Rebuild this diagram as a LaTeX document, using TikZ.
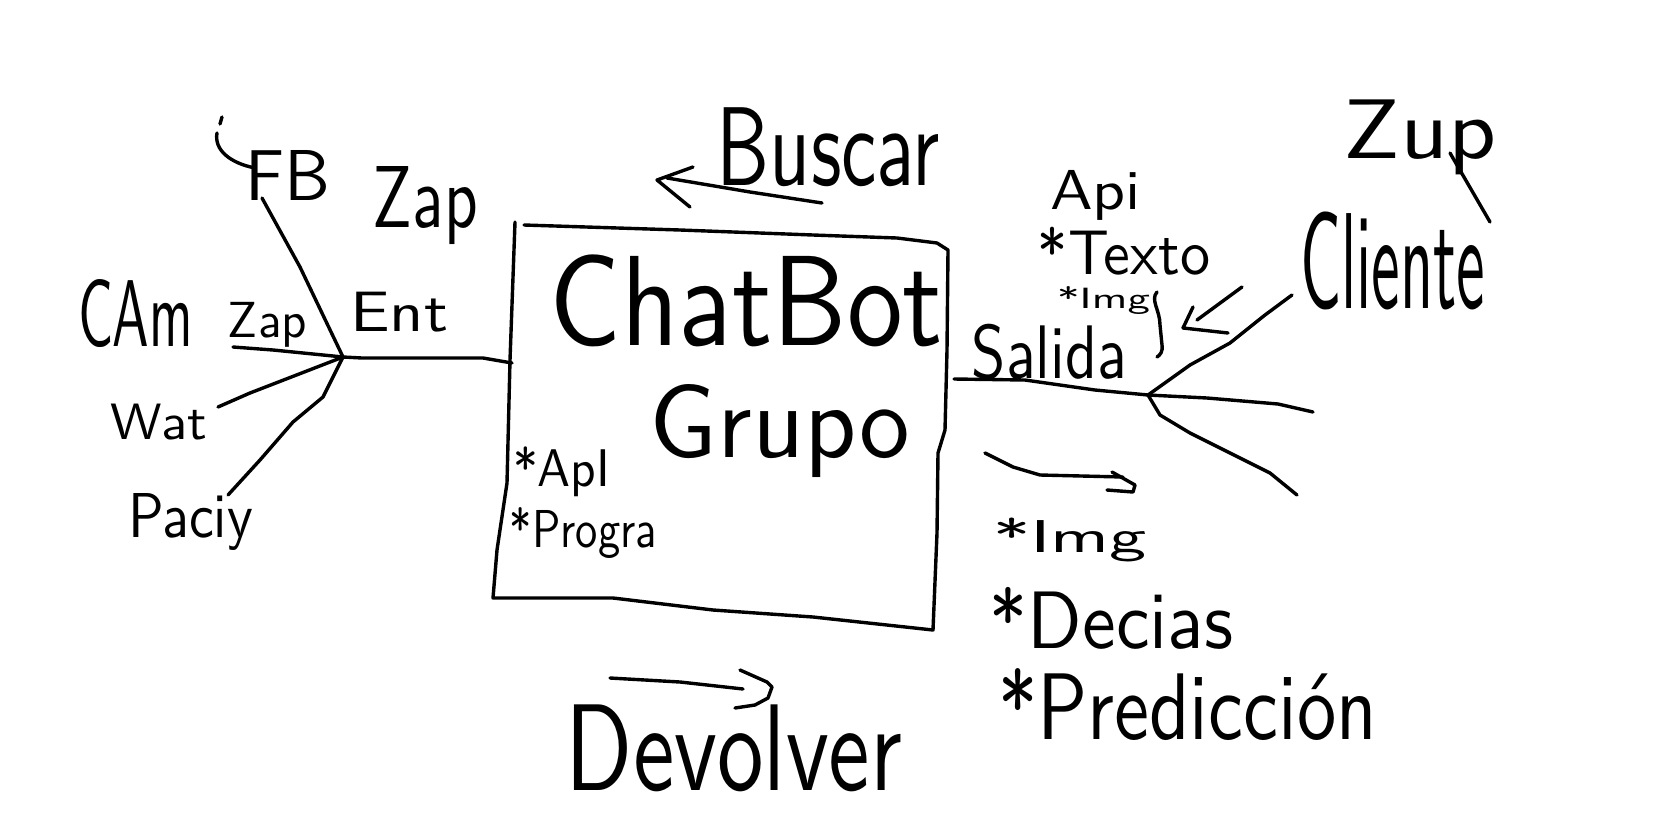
\documentclass[tikz,border=0pt]{standalone}
\usepackage{fontspec}
\usepackage{graphicx}
\tikzset{
  pen/.style={line width=3.4pt, line cap=round, line join=round},
  lbl/.style={inner sep=0pt, anchor=center}
}
\newcommand\hw[3]{\resizebox*{#1pt}{#2pt}{\sffamily #3}}
\begin{document}
\begin{tikzpicture}[x=1pt,y=-1pt]
\useasboundingbox (0,0) rectangle (1675,836);

% ---------- labels ----------
\node[lbl] (fb)   at (287.5,175)  {\hw{85}{50}{FB}};
\node[lbl] (zap1) at (425.5,206)  {\hw{105}{78}{Zap}};
\node[lbl] (cam)  at (135.5,314)  {\hw{115}{68}{CAm}};
\node[lbl] (zap2) at (267.5,324.5){\hw{79}{45}{Zap}};
\node[lbl] (ent)  at (399,312)    {\hw{98}{40}{Ent}};
\node[lbl] (wat)  at (159,422)    {\hw{96}{36}{Wat}};
\node[lbl] (paci) at (190.5,521.5){\hw{125}{57}{Paciy}};
\node[lbl] (buscar) at (828.5,147.5) {\hw{223}{79}{Buscar}};
\node[lbl] (chat) at (746.5,301)  {\hw{393}{92}{ChatBot}};
\node[lbl] (grupo) at (780,431.5) {\hw{260}{93}{Grupo}};
\node[lbl] (api1) at (561.5,472)  {\hw{97}{50}{*ApI}};
\node[lbl] (prog) at (583.5,532.5){\hw{147}{51}{*Progra}};
\node[lbl] (api2) at (1095.5,195){\hw{91}{50}{Api}};
\node[lbl] (texto) at (1124,251)  {\hw{172}{48}{*Texto}};
\node[lbl] (img1) at (1103.5,301){\hw{93}{28}{*Img}};
\node[lbl] (salida) at (1049.5,352){\hw{155}{56}{Salida}};
\node[lbl] (cliente) at (1392.5,261){\hw{185}{98}{Cliente}};
\node[lbl] (zap3) at (1420.5,137.5){\hw{153}{75}{Zup}};
\node[lbl] (img2) at (1070,540) {\hw{154}{44}{*Img}};
\node[lbl] (decias) at (1111.5,618){\hw{243}{62}{*Decias}};
\node[lbl] (pred) at (1187.5,705){\hw{379}{72}{*Predicción}};
\node[lbl] (devolver) at (734,748.5){\hw{336}{87}{Devolver}};

% ---------- box ----------
\draw[pen] (515,222) -- (510,360) -- (507,483) -- (497,550) -- (493,598)
  -- (613,598) -- (713,610) -- (813,617) -- (933,630)
  -- (937,533) -- (938,453) -- (945,430) -- (947,350) -- (948,250)
  -- (937,243) -- (897,238) -- (813,235) -- (680,230) -- (524,225);

% ---------- left hub ----------
\coordinate (hl) at (343,357);
\coordinate (bl) at (512,363);
\coordinate (efb) at (262,198);
\coordinate (ezap) at (233,347);
\coordinate (ewat) at (218,407);
\coordinate (epaci) at (228,495);
\draw[pen] (hl) -- (362,358) -- (483,358) -- (bl);
\draw[pen] (efb) -- (300,267) -- (hl);
\draw[pen] (ezap) -- (273,350) -- (hl);
\draw[pen] (ewat) -- (250,393) -- (hl);
\draw[pen] (epaci) -- (260,460) -- (293,422) -- (323,397) -- (hl);
% bracket before FB
\draw[pen] (222,117) -- (220,124);
\draw[pen] (217,133) .. controls (214,150) and (230,163) .. (255,168);

% ---------- right hub ----------
\coordinate (br) at (954,379);
\coordinate (hr) at (1148,395);
\coordinate (eup) at (1292,295);
\coordinate (emid) at (1313,412);
\coordinate (edown) at (1297,495);
\draw[pen] (br) -- (1025,380) -- (1095,390) -- (hr);
\draw[pen] (hr) -- (1190,365) -- (1230,343) -- (1265,315) -- (eup);
\draw[pen] (hr) -- (1207,398) -- (1278,404) -- (emid);
\draw[pen] (hr) -- (1160,415) -- (1190,433) -- (1230,453) -- (1270,473) -- (edown);

% brace after *Img
\draw[pen] (1157,292) .. controls (1150,300) and (1160,310) .. (1160,325)
  -- (1162,345) .. controls (1163,352) and (1160,355) .. (1157,357);
% arrow toward brace
\coordinate (atail) at (1242,287);
\coordinate (atip) at (1183,328);
\draw[pen] (atail) -- (1197,320);
\draw[pen] (1193,307) -- (atip) -- (1228,333);
% slash through Zup
\draw[pen] (1450,153) -- (1490,222);

% ---------- arrows ----------
% Buscar arrow
\coordinate (btail) at (822,203);
\coordinate (btip) at (657,180);
\draw[pen] (btail) -- (750,192) -- (667,178);
\draw[pen] (693,167) -- (btip) -- (690,207);
% Devolver arrow
\coordinate (dtail) at (610,678);
\coordinate (dtip) at (772,687);
\draw[pen] (dtail) -- (680,682) -- (743,689);
\draw[pen] (740,670) -- (767,682) -- (dtip) -- (768,698) -- (755,705) -- (735,708);
% lower right arrow
\coordinate (rtail) at (985,453);
\coordinate (rtip) at (1135,485);
\draw[pen] (rtail) -- (1013,467) -- (1040,475) -- (1123,477);
\draw[pen] (1112,472) -- (rtip) -- (1133,492) -- (1107,490);
\end{tikzpicture}
\end{document}
